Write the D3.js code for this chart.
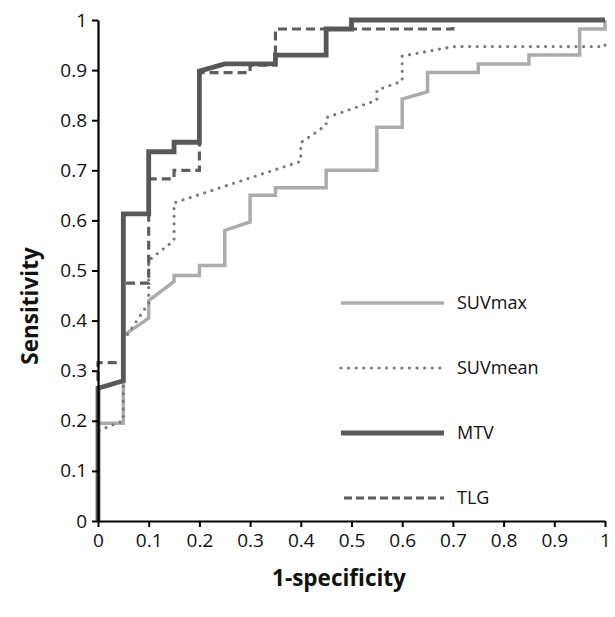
<!DOCTYPE html>
<html>
<head>
<meta charset="utf-8">
<script src="https://cdn.jsdelivr.net/npm/d3@7"></script>
<style>
	body { margin: 0; background: #fff; }
	svg { display: block; }
	.tick text { font-family: "Open Sans", sans-serif; font-size: 19px; fill: #111; }
	.axis-title { font-family: "Open Sans", sans-serif; font-weight: bold; font-size: 22.5px; fill: #111; }
	.legend-label { font-family: "Open Sans", sans-serif; font-size: 18px; fill: #111; }
</style>
</head>
<body>
<svg id="roc" width="615" height="617" viewBox="0 0 615 617"></svg>
<script>

// ROC points: [1-specificity, sensitivity]
const suvmax = [
	[0, 0], [0, 0.195], [0.05, 0.195], [0.05, 0.37], [0.1, 0.405], [0.1, 0.44],
	[0.15, 0.478], [0.15, 0.49], [0.2, 0.49], [0.2, 0.51], [0.25, 0.51], [0.25, 0.58],
	[0.3, 0.597], [0.3, 0.65], [0.35, 0.65], [0.35, 0.665], [0.45, 0.665], [0.45, 0.70],
	[0.55, 0.70], [0.55, 0.786], [0.6, 0.786], [0.6, 0.842], [0.65, 0.857], [0.65, 0.895],
	[0.75, 0.895], [0.75, 0.912], [0.85, 0.912], [0.85, 0.93], [0.95, 0.93], [0.95, 0.982],
	[1, 0.982], [1, 1]
];
const suvmean = [
	[0, 0], [0, 0.18], [0.05, 0.2], [0.05, 0.36], [0.1, 0.435], [0.1, 0.52],
	[0.15, 0.56], [0.15, 0.635], [0.4, 0.718], [0.4, 0.755], [0.45, 0.79], [0.45, 0.805],
	[0.55, 0.84], [0.55, 0.86], [0.6, 0.878], [0.6, 0.928], [0.7, 0.947], [1, 0.947], [1, 0.965]
];
const mtv = [
	[0, 0], [0, 0.265], [0.05, 0.28], [0.05, 0.613], [0.1, 0.613], [0.1, 0.737],
	[0.15, 0.737], [0.15, 0.756], [0.2, 0.756], [0.2, 0.898], [0.25, 0.9125], [0.35, 0.9125],
	[0.35, 0.93], [0.45, 0.93], [0.45, 0.982], [0.5, 0.982], [0.5, 1], [1, 1]
];
const tlg = [
	[0, 0], [0, 0.316], [0.05, 0.316], [0.05, 0.475], [0.1, 0.475], [0.1, 0.683],
	[0.15, 0.683], [0.15, 0.70], [0.2, 0.70], [0.2, 0.895], [0.3, 0.895], [0.3, 0.91],
	[0.35, 0.91], [0.35, 0.982], [0.7, 0.982], [0.7, 1], [1, 1]
];

const series_names = ["SUVmax", "SUVmean", "MTV", "TLG"];
const tick_values = [0, 0.1, 0.2, 0.3, 0.4, 0.5, 0.6, 0.7, 0.8, 0.9, 1];

const styles = {
	SUVmax: { stroke: "#acacac", width: 3.5, dash: null, cap: "butt" },
	SUVmean: { stroke: "#7a7a7a", width: 3.2, dash: "0,7.6", cap: "round" },
	MTV: { stroke: "#585858", width: 4.8, dash: null, cap: "butt" },
	TLG: { stroke: "#5e5e5e", width: 3.2, dash: "9,5", cap: "butt" }
};

function whenDocumentLoaded(action) {
	if (document.readyState === "loading") {
		document.addEventListener("DOMContentLoaded", action);
	} else {
		action();
	}
}

whenDocumentLoaded(() => {
	const svg = d3.select("#roc");
	const left = 98, right = 605, top = 20, bottom = 521;

	const x = d3.scaleLinear().domain([0, 1]).range([left, right]);
	const y = d3.scaleLinear().domain([0, 1]).range([bottom, top]);

	const fmt = (d) => d === 0 ? "0" : d === 1 ? "1" : d3.format(".1f")(d);

	const line = d3.line()
		.x((d) => x(d[0]))
		.y((d) => y(d[1]));

	const data = [
		["SUVmax", suvmax],
		["SUVmean", suvmean],
		["TLG", tlg],
		["MTV", mtv]
	];

	// curves
	svg.append("g").selectAll("path")
		.data(data)
		.enter().append("path")
		.attr("d", (d) => line(d[1]))
		.attr("fill", "none")
		.attr("stroke", (d) => styles[d[0]].stroke)
		.attr("stroke-width", (d) => styles[d[0]].width)
		.attr("stroke-dasharray", (d) => styles[d[0]].dash)
		.attr("stroke-linecap", (d) => styles[d[0]].cap)
		.attr("stroke-linejoin", "miter");

	// axes
	const x_axis = d3.axisBottom(x).tickValues(tick_values).tickFormat(fmt).tickSize(6).tickSizeOuter(0).tickPadding(7);
	const y_axis = d3.axisLeft(y).tickValues(tick_values).tickFormat(fmt).tickSize(6).tickSizeOuter(0).tickPadding(5);

	const gx = svg.append("g")
		.attr("transform", "translate(0," + bottom + ")")
		.call(x_axis);
	const gy = svg.append("g")
		.attr("transform", "translate(" + left + ",0)")
		.call(y_axis);

	[gx, gy].forEach((g) => {
		g.select(".domain").attr("stroke", "#000").attr("stroke-width", 2.2);
		g.selectAll(".tick line").attr("stroke", "#000").attr("stroke-width", 2);
		g.attr("font-family", null).attr("font-size", null);
	});

	svg.append("text")
		.classed("axis-title", true)
		.attr("x", 339)
		.attr("y", 586)
		.attr("text-anchor", "middle")
		.text("1-specificity");

	svg.append("text")
		.classed("axis-title", true)
		.attr("transform", "translate(38,306) rotate(-90)")
		.attr("text-anchor", "middle")
		.text("Sensitivity");

	// legend
	const legend_y = d3.scalePoint().domain(series_names).range([303, 498]);
	const legend = svg.append("g").selectAll("g")
		.data(series_names)
		.enter().append("g")
		.attr("transform", (d) => "translate(0," + legend_y(d) + ")");

	legend.append("line")
		.attr("x1", (d) => d === "TLG" ? 344 : 341)
		.attr("x2", 444)
		.attr("stroke", (d) => styles[d].stroke)
		.attr("stroke-width", (d) => styles[d].width)
		.attr("stroke-dasharray", (d) => d === "TLG" ? "8,4" : styles[d].dash)
		.attr("stroke-linecap", (d) => styles[d].cap);

	legend.append("text")
		.classed("legend-label", true)
		.attr("x", 457)
		.attr("dy", "0.35em")
		.text((d) => d);
});
</script>
</body>
</html>
